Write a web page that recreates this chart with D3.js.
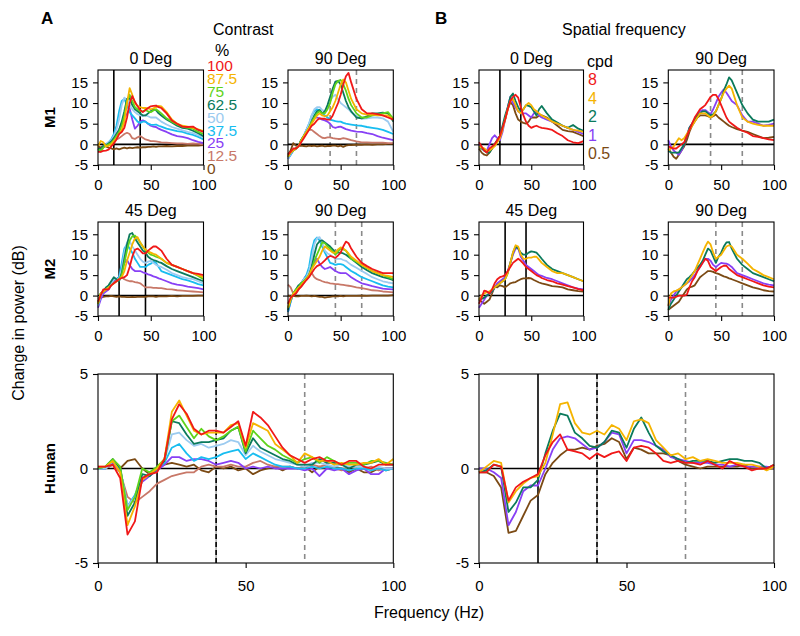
<!DOCTYPE html>
<html><head><meta charset="utf-8">
<script src="https://cdn.jsdelivr.net/npm/d3@7"></script>
<style>
body{margin:0;background:#fff}
svg{display:block}
text{font-family:"Liberation Sans",Arial,Helvetica,sans-serif;fill:#000}
</style>
</head><body><svg id="chart" width="800" height="636"></svg>
<script>
// ---------------- DATA ----------------
const freqs = [0,2.5,5,7.5,10,12.5,15,17.5,20,22.5,25,27.5,30,32.5,35,37.5,40,42.5,45,47.5,50,52.5,55,57.5,60,65,70,75,80,85,90,95,100];
const humanFreqs = [0,2.5,5,7.5,10,12.5,15,17.5,20,22.5,25,27.5,30,32.5,35,37.5,40,42.5,45,47.5,50,52.5,55,57.5,60,62.5,65,67.5,70,72.5,75,77.5,80,82.5,85,87.5,90,92.5,95,97.5,100];

const contrastLabels = ["100","87.5","75","62.5","50","37.5","25","12.5","0"];
const contrastColors = ["#f01818","#f5b400","#5fd31a","#0b7a5c","#9ccbf0","#18bdf0","#8840f5","#c87868","#7b4a14"];
const sfLabels = ["8","4","2","1","0.5"];
const sfColors = ["#f01818","#f5b400","#0b7a5c","#8840f5","#7b4a14"];

const yTicksMonkey = [-5,0,5,10,15];
const yTicksHuman = [-5,0,5];
const xTicks = [0,50,100];

// Contrast, M1, 0 Deg (rows: 100, 87.5, 75, 62.5, 50, 37.5, 25, 12.5, 0 %)
const m1Contrast0 = [
 [-1.8,-1.8,-1.6,-1.5,-1.3,-0.5,0.2,1.2, 2.5,3.0,4.0,6.5,10.0,11.7,10.3,9.2, 8.3,7.8,8.3,8.8,9.2,9.3,9.4,9.0, 8.8,7.5,5.8,5.0,4.3,4.2,4.3,3.5, 3.0],
 [-0.5,0.8,0.5,-0.5,-0.3,0.0,0.8,1.5, 2.5,3.5,5.5,10.0,13.6,12.0,10.0,9.3, 9.0,8.8,8.8,8.7,8.5,8.7,9.0,9.3, 9.2,7.8,6.0,5.0,4.5,4.3,4.0,3.6, 3.2],
 [-1.2,-1.5,-0.8,-0.3,0.0,0.3,1.0,2.0, 3.0,4.5,7.0,10.5,12.0,10.5,9.0,8.5, 8.0,8.0,8.3,8.0,7.8,8.2,8.5,8.0, 7.5,6.3,5.5,4.8,4.3,4.0,3.8,3.0, 2.5],
 [-1.0,-1.2,-0.5,-0.2,0.2,0.7,1.5,2.5, 3.5,5.5,8.0,11.0,11.2,9.5,8.5,8.0, 7.5,7.0,7.0,7.5,8.0,8.5,8.3,7.5, 7.0,6.0,5.3,4.5,4.0,3.8,3.3,2.7, 2.0],
 [-1.0,-1.3,-0.5,0.0,0.5,1.0,2.0,3.5, 6.0,9.5,11.3,10.8,9.5,8.5,7.8,7.3, 7.0,6.8,7.0,6.8,6.5,6.5,6.5,6.0, 5.5,4.8,4.2,3.8,3.4,3.0,2.7,2.2, 1.7],
 [-1.2,-1.5,-0.5,0.0,0.5,1.2,2.5,4.5, 8.0,10.5,11.0,9.5,7.8,7.0,6.3,5.5, 5.2,5.5,5.5,5.0,4.8,4.7,4.8,4.5, 4.3,3.8,3.5,3.2,3.0,2.6,2.3,1.8, 1.2],
 [-1.0,-1.3,-0.5,0.0,0.3,0.8,1.5,2.5, 3.5,5.0,6.5,7.5,8.7,6.0,3.8,4.5, 5.5,5.8,5.5,5.0,4.5,4.3,4.2,3.8, 3.5,3.0,2.4,2.0,1.8,1.5,1.0,0.6, 0.3],
 [-1.5,-1.8,-0.8,-0.3,0.0,0.3,0.8,1.2, 1.5,2.0,2.5,2.8,2.5,1.5,1.3,1.7, 2.0,1.6,1.2,1.0,0.8,0.8,0.7,0.6, 0.5,0.4,0.3,0.2,0.2,0.1,0.2,0.1, 0.0],
 [-0.5,-0.8,-0.3,-0.5,-0.8,-1.0,-1.2,-1.0, -1.2,-1.0,-0.8,-1.0,-0.8,-0.9,-0.8,-0.7, -0.8,-0.7,-0.7,-0.6,-0.6,-0.5,-0.6,-0.5, -0.5,-0.4,-0.5,-0.4,-0.4,-0.3,-0.3,-0.3, -0.2]
];
// Contrast, M1, 90 Deg
const m1Contrast90 = [
 [-2.5,-1.8,-1.0,-1.0,-0.5,0.5,1.5,2.5, 3.5,4.5,5.0,5.8,6.3,6.2,6.2,6.0, 6.0,7.0,8.5,10.0,12.0,14.5,16.5,17.3, 15.0,11.0,8.5,7.5,7.5,7.3,7.0,6.5, 6.0],
 [-3.0,-2.0,-1.5,-1.0,-0.5,0.8,2.0,3.0, 4.0,5.0,6.0,7.0,7.5,7.0,6.8,7.0, 8.0,9.0,10.5,12.5,14.5,15.7,15.0,13.0, 11.0,8.5,7.5,7.2,7.2,7.0,7.0,7.0, 6.0],
 [-3.0,-2.0,-1.5,-1.0,-0.5,1.0,2.0,3.0, 4.0,5.5,6.5,7.5,8.0,7.5,7.5,8.5, 10.0,12.5,14.5,15.3,15.6,14.5,13.0,11.0, 9.5,7.5,6.5,6.5,7.0,7.2,7.5,7.8, 6.2],
 [-3.0,-2.0,-1.5,-1.0,-0.5,1.0,2.0,3.0, 4.0,5.5,7.0,8.0,8.3,7.5,8.0,9.5, 11.5,13.5,15.2,15.4,14.5,12.5,10.5,9.0, 8.0,6.5,6.3,6.8,7.5,7.5,7.7,7.5, 5.5],
 [-3.5,-2.3,-1.5,-1.0,-0.5,1.0,2.0,3.5, 5.0,7.0,8.5,9.0,9.0,8.3,8.0,9.0, 10.5,11.5,12.0,11.0,10.0,9.5,9.0,8.5, 7.8,6.8,6.2,6.3,6.5,6.5,6.3,5.5, 3.0],
 [-3.5,-2.5,-1.5,-1.0,-0.5,1.0,2.0,3.5, 5.0,7.0,8.0,8.5,8.3,7.5,7.0,6.5, 6.0,5.8,5.6,5.5,5.5,5.2,5.0,4.9, 4.8,4.6,4.5,4.2,4.0,3.8,3.5,3.0, 2.5],
 [-3.5,-2.5,-1.5,-1.0,-0.5,1.0,2.0,3.5, 4.8,6.0,6.5,6.5,6.3,6.0,5.8,5.5, 5.0,4.2,4.0,4.2,4.3,4.0,3.7,3.5, 3.3,3.1,3.0,2.7,2.5,2.0,1.6,1.3, 1.0],
 [-3.0,-2.0,-1.5,-1.0,-0.3,1.0,2.0,3.0, 3.5,3.5,3.0,2.5,2.0,1.6,1.5,1.7, 1.7,1.5,1.4,1.3,1.3,1.5,1.4,1.2, 1.0,0.7,0.5,0.5,0.4,0.4,0.4,0.3, 0.3],
 [-2.5,-1.5,0.3,-0.3,-0.5,-0.3,-0.4,-0.5, -0.3,-0.4,-0.3,-0.5,-0.4,-0.3,-0.5,-0.4, -0.4,-0.3,-0.3,-0.5,-0.3,-0.6,-0.3,-0.2, -0.2,-0.1,-0.1,0.0,-0.1,0.0,0.0,0.1, 0.1]
];
// Contrast, M2, 45 Deg
const m2Contrast45 = [
 [-1.5,0.0,1.5,1.5,1.5,2.5,3.0,3.5, 4.0,4.3,4.5,5.0,7.0,9.5,11.2,11.5, 11.0,10.3,10.3,11.0,11.5,12.0,12.0,11.5, 11.0,9.0,7.5,7.0,6.5,6.0,5.5,5.3, 5.0],
 [-2.0,0.5,1.0,1.5,2.0,2.5,3.0,3.5, 4.0,4.5,6.0,8.5,10.5,12.5,14.0,14.3, 13.0,12.0,11.3,10.8,10.5,10.2,10.0,9.5, 9.0,8.0,7.5,7.0,6.5,6.0,5.5,5.0, 4.5],
 [-2.0,0.5,1.0,1.5,2.0,2.5,3.0,3.5, 4.0,5.0,8.0,11.0,13.5,14.5,14.7,14.0, 13.0,12.0,11.0,10.5,10.0,9.8,9.5,9.3, 9.0,8.0,7.5,7.0,6.5,6.0,5.5,4.8, 4.0],
 [-2.0,0.5,1.0,2.0,2.5,3.5,4.5,4.0, 3.5,5.5,9.0,12.5,15.0,15.3,14.0,13.0, 12.0,11.0,10.5,9.5,9.0,8.7,8.5,8.2, 8.0,7.2,6.5,6.0,5.5,5.0,4.5,4.0, 3.5],
 [-2.5,0.0,1.0,1.5,2.0,3.0,4.0,4.0, 4.0,6.5,10.5,13.0,13.3,12.0,11.0,10.0, 9.0,8.3,8.0,8.3,8.5,8.0,7.5,7.2, 7.0,6.3,5.5,5.0,4.5,4.2,4.0,3.5, 3.0],
 [-2.5,0.0,1.0,1.5,2.0,3.0,4.0,4.0, 4.5,8.0,11.5,12.5,11.5,10.5,9.0,8.0, 7.0,7.0,7.0,7.5,7.8,8.3,8.0,7.0, 6.0,5.5,5.0,4.5,4.0,3.7,3.3,2.8, 2.5],
 [-3.0,-1.0,0.5,1.0,1.5,2.5,3.5,4.0, 4.5,6.0,8.0,8.7,7.5,6.5,6.0,6.0, 6.0,5.7,5.5,5.2,5.0,4.7,4.5,4.2, 4.0,3.5,3.0,2.7,2.5,2.2,2.0,1.8, 1.5],
 [-1.5,0.0,1.0,1.5,2.0,3.0,3.5,4.0, 4.5,4.5,4.0,3.7,3.5,3.5,3.3,3.2, 3.0,2.5,2.0,2.0,2.0,1.9,1.9,1.8, 1.8,1.6,1.5,1.3,1.2,1.1,1.0,0.9, 0.8],
 [-0.8,-0.5,-0.3,-0.2,-0.2,-0.1,-0.2,-0.3, -0.2,-0.3,-0.3,-0.4,-0.4,-0.3,-0.4,-0.3, -0.3,-0.3,-0.3,-0.2,-0.2,-0.2,-0.3,-0.2, -0.2,-0.2,-0.1,-0.2,-0.1,-0.1,-0.1,0.0, 0.0]
];
// Contrast, M2, 90 Deg
const m2Contrast90 = [
 [-2.0,-0.5,0.0,0.5,1.5,2.2,3.0,3.8, 4.5,5.5,6.5,7.2,7.5,8.0,8.6,9.3, 9.7,9.5,9.2,9.8,10.5,12.0,13.2,12.8, 11.5,9.5,8.0,7.2,6.5,6.0,5.5,5.5, 5.5],
 [-3.0,-1.0,0.5,1.0,2.0,2.5,3.3,4.0, 5.0,6.5,7.5,8.5,9.5,11.0,12.0,11.5, 11.0,10.5,10.5,11.3,11.8,11.5,11.0,10.3, 9.5,8.5,7.5,6.8,6.0,5.5,5.0,4.8, 4.5],
 [-3.0,-1.0,0.5,1.5,2.0,3.0,3.5,4.3, 5.0,6.5,8.5,10.0,11.5,13.0,12.8,12.0, 11.5,10.8,10.0,10.8,11.5,11.3,11.0,10.0, 9.0,8.3,7.5,6.7,6.0,5.5,5.0,4.5, 4.0],
 [-3.5,-1.0,0.5,1.5,2.5,3.0,3.5,4.0, 5.0,7.0,10.0,12.5,13.3,13.5,13.0,12.5, 12.0,11.3,10.5,10.5,10.5,10.3,10.0,9.5, 9.0,8.0,7.0,6.2,5.5,5.0,4.5,4.2, 3.8],
 [-3.5,-1.0,0.5,1.5,2.0,3.0,4.0,4.5, 6.0,9.0,12.5,14.0,14.3,13.0,11.0,10.3, 10.0,9.5,9.0,9.0,9.0,8.7,8.5,8.0, 7.5,6.8,6.0,5.3,4.5,4.0,3.5,3.2, 3.0],
 [-4.0,-1.5,0.5,1.0,2.0,3.0,4.0,5.0, 7.0,11.0,13.5,14.2,13.5,12.0,10.5,9.3, 8.0,7.8,7.5,7.7,7.7,7.5,7.0,6.5, 6.0,5.3,4.5,4.0,3.5,3.0,2.5,2.2, 2.0],
 [-4.0,-1.5,0.5,1.0,2.0,3.0,4.0,5.0, 6.0,7.5,8.0,9.0,7.8,7.0,6.5,6.7, 7.0,6.5,6.0,5.7,5.5,5.5,5.5,5.0, 4.5,3.7,3.0,2.7,2.3,2.0,1.7,1.6, 1.5],
 [2.7,2.0,0.5,0.5,1.5,2.2,3.0,4.0, 5.0,5.5,4.5,4.0,3.8,3.5,3.3,3.2, 3.0,2.9,2.8,2.8,2.7,2.6,2.5,2.4, 2.3,2.0,1.8,1.6,1.3,1.2,1.0,0.9, 0.8],
 [0.0,-0.2,-0.1,-0.2,-0.2,-0.1,-0.1,0.0, -0.1,-0.2,-0.1,-0.2,-0.3,-0.3,-0.5,-0.4, -0.3,-0.2,-0.2,-0.2,-0.1,-0.2,-0.1,-0.1, -0.1,-0.1,0.0,-0.1,0.0,0.0,0.0,0.0, 0.1]
];
// Spatial frequency, M1, 0 Deg (rows: 8, 4, 2, 1, 0.5 cpd)
const m1Sf0 = [
 [0.5,-0.5,-1.5,-2.0,-1.0,-0.5,0.0,1.0, 2.0,4.0,6.0,8.5,10.5,11.5,12.0,11.3, 9.0,7.0,5.5,4.5,4.0,4.3,4.5,4.2, 4.0,3.8,3.5,2.7,2.0,1.0,0.5,0.3, 0.8],
 [-0.5,-0.8,-1.0,-1.5,-1.5,-1.0,-0.5,0.5, 1.5,3.5,6.0,8.5,10.5,11.0,9.5,8.0, 7.5,8.5,9.5,10.0,9.5,8.5,8.0,7.5, 7.0,6.3,5.5,5.0,4.5,4.0,3.5,3.3, 3.0],
 [-0.5,-1.0,-1.5,-2.0,-2.0,-1.0,0.0,1.0, 2.0,4.5,7.0,9.0,11.5,12.3,10.5,9.0, 8.0,8.5,9.5,9.3,9.0,8.0,7.0,8.5, 9.3,7.5,6.0,5.3,4.5,4.0,4.7,3.8, 3.3],
 [0.0,-0.8,-1.5,-1.5,0.0,1.5,2.2,1.5, 1.0,3.0,6.0,9.0,11.5,10.0,9.0,8.0, 7.5,7.5,7.5,7.0,6.5,7.5,8.0,7.0, 6.5,6.0,5.5,5.0,4.5,4.0,3.5,3.0, 2.5],
 [-1.0,-2.0,-2.5,-2.7,-2.0,-1.0,0.0,1.0, 2.0,4.0,6.0,8.5,10.2,9.5,7.5,6.0, 5.5,5.2,5.0,5.5,6.5,6.5,6.5,7.0, 7.0,6.5,5.5,4.5,3.5,3.2,3.0,2.5, 2.0]
];
// Spatial frequency, M1, 90 Deg
const m1Sf90 = [
 [-0.5,-0.8,-1.0,-1.0,-0.5,0.0,0.5,2.0, 3.5,5.0,6.5,7.5,8.5,9.0,9.5,10.5, 11.5,12.0,12.0,11.0,9.5,8.0,6.5,5.5, 5.0,4.0,3.3,2.8,2.0,1.8,1.5,1.2, 1.0],
 [-1.5,-1.0,-0.5,0.5,1.5,1.0,1.5,2.5, 3.5,4.5,5.5,6.5,7.5,7.5,7.5,7.0, 6.5,7.0,8.0,9.5,11.0,12.5,13.5,14.2, 13.5,9.5,6.5,5.5,5.0,4.7,4.5,4.5, 4.5],
 [-1.5,-2.0,-2.0,-2.0,-2.0,-1.0,0.0,2.0, 4.0,5.0,6.0,7.0,7.5,8.0,8.0,7.5, 7.0,7.3,8.0,9.5,11.0,13.0,14.5,16.2, 15.5,12.5,9.5,7.5,6.0,5.5,5.5,5.5, 6.0],
 [1.0,-0.5,-1.5,-2.0,-2.5,-1.5,0.0,2.0, 4.0,5.0,6.0,7.0,8.0,8.3,8.3,7.8, 7.3,8.5,10.0,11.5,12.5,13.3,12.5,11.5, 10.5,9.5,7.0,5.5,5.5,5.0,4.5,4.7, 5.0],
 [-1.0,-2.0,-3.0,-3.5,-2.5,-1.5,-0.5,1.0, 3.0,4.5,5.5,6.5,7.0,7.0,7.0,6.8, 6.5,6.8,7.2,6.5,6.0,5.5,5.0,4.5, 4.2,3.7,3.3,3.0,2.5,2.0,1.5,1.6, 1.8]
];
// Spatial frequency, M2, 45 Deg
const m2Sf45 = [
 [-2.0,-0.5,1.2,1.0,0.5,1.5,3.0,4.0, 4.5,4.7,5.0,6.0,7.0,8.0,8.5,9.0, 8.5,7.8,7.0,6.5,6.0,5.5,5.0,4.7, 4.3,3.8,3.5,3.0,2.7,2.3,2.0,1.6, 1.3],
 [-1.0,0.0,0.5,0.8,1.0,1.5,2.0,2.5, 3.0,3.5,4.0,5.5,8.0,10.5,12.3,12.0, 10.0,9.0,9.0,9.3,9.3,9.5,9.5,8.8, 8.0,7.0,6.0,5.5,5.5,5.0,4.5,4.0, 3.5],
 [-1.0,-0.8,-0.5,0.0,0.5,1.0,2.0,2.5, 3.0,3.5,4.0,5.5,8.0,10.5,12.0,11.5, 10.5,10.0,10.0,10.5,10.8,10.7,10.5,9.8, 9.0,7.5,6.5,6.0,5.5,5.0,4.5,4.0, 3.5],
 [-3.0,-2.0,-1.0,0.0,0.5,1.0,2.0,3.0, 3.5,4.0,4.5,6.0,8.0,10.0,11.5,11.6, 9.5,8.5,7.5,7.0,6.5,6.0,5.5,5.0, 4.8,4.3,4.0,3.5,3.0,2.5,2.0,1.7, 1.5],
 [-1.0,-1.5,-2.0,-1.5,-1.0,0.5,2.2,2.0, 2.5,2.3,2.0,2.5,3.0,3.2,3.3,3.7, 4.0,4.2,4.2,4.3,4.2,3.8,3.5,3.2, 3.0,2.7,2.3,2.2,2.0,1.5,1.3,1.1, 1.0]
];
// Spatial frequency, M2, 90 Deg
const m2Sf90 = [
 [-0.5,-0.5,-0.5,-0.3,0.0,0.0,0.0,0.2, 2.0,3.5,4.5,6.0,7.0,8.0,9.0,8.5, 7.0,6.5,6.0,6.5,7.0,7.3,7.3,6.5, 6.0,5.0,4.5,4.0,3.5,3.0,2.5,2.2, 2.0],
 [-2.5,0.5,1.0,1.2,1.5,2.0,2.5,3.0, 4.0,5.0,6.0,7.5,9.0,10.5,12.0,13.2, 12.5,10.5,9.0,9.5,10.0,11.0,12.0,12.3, 12.0,10.0,9.0,7.8,6.5,5.8,5.0,4.5, 4.0],
 [-3.5,-2.0,-1.0,0.0,1.0,2.0,3.0,4.0, 4.5,5.2,6.0,6.8,7.5,8.5,10.0,11.5, 11.0,9.5,8.0,9.5,10.5,12.0,13.0,13.1, 11.5,9.0,7.5,6.5,5.5,5.0,4.5,4.0, 3.5],
 [-2.5,-1.0,0.0,1.0,1.5,2.0,2.5,3.0, 3.5,4.2,5.0,6.0,7.0,8.0,9.0,9.0, 8.5,7.5,7.0,7.5,8.0,7.9,7.8,7.5, 7.0,5.5,5.0,4.5,4.0,3.5,3.0,2.7, 2.5],
 [-3.5,-3.0,-2.5,-2.0,-1.5,-0.5,0.5,1.5, 2.0,2.2,2.5,3.5,4.5,5.0,5.5,6.0, 6.0,5.8,5.5,5.3,5.0,4.7,4.5,4.2, 4.0,3.5,3.0,2.5,2.0,1.7,1.3,1.1, 1.0]
];
// Human, contrast
const humanContrast = [
 [0.1,0.1,0.2,-0.5,-3.5,-2.8,-0.5,-0.3, -0.2,0.5,2.6,3.4,2.9,2.1,1.8,2.0, 2.0,1.9,2.2,2.5,1.2,3.0,2.7,2.3, 1.7,1.1,0.7,0.5,0.3,0.5,0.6,0.4, 0.4,0.2,0.4,0.4,0.1,0.0,0.2,0.2, 0.2],
 [0.1,0.1,0.4,-0.2,-3.0,-2.0,-0.6,-0.3, 0.0,0.5,3.0,3.6,2.8,2.0,1.8,1.9, 1.9,1.9,2.3,2.4,1.1,2.4,2.2,2.0, 1.3,1.0,0.7,0.3,0.8,0.6,0.4,0.4, 0.2,0.3,0.2,0.2,0.3,0.3,0.5,0.2, 0.5],
 [0.0,0.1,0.5,0.1,-2.2,-1.5,0.0,-0.2, 0.1,0.5,2.5,2.8,2.2,1.6,2.1,1.7, 1.5,1.7,2.0,2.2,0.9,2.0,1.6,1.2, 1.0,0.7,0.5,0.3,0.5,0.6,0.3,0.6, 0.4,0.2,0.3,0.3,0.2,0.4,0.4,0.3, 0.2],
 [0.0,0.1,0.5,0.0,-2.5,-1.8,-0.3,-0.4, 0.0,0.4,2.5,2.4,1.8,1.3,1.4,1.4, 1.5,1.6,2.0,2.2,0.8,1.6,1.1,0.9, 0.7,0.5,0.4,0.2,0.2,0.2,0.5,0.3, 0.3,0.2,0.0,0.2,0.2,0.3,0.4,0.2, 0.2],
 [0.0,0.0,0.4,0.0,-2.0,-1.5,-0.5,-0.3, 0.0,0.4,1.8,1.9,1.5,1.2,1.3,1.1, 1.2,1.3,1.5,1.4,0.7,1.2,0.9,0.7, 0.5,0.4,0.3,0.2,0.1,0.3,0.3,0.2, 0.1,0.2,0.1,0.1,0.1,0.0,0.1,0.0, 0.0],
 [0.0,0.0,0.4,0.0,-2.0,-1.4,-0.5,-0.3, 0.0,0.3,1.1,1.3,0.8,0.4,0.6,0.5, 0.6,0.8,0.9,1.0,0.5,0.8,0.6,0.4, 0.2,0.1,0.1,0.0,0.0,0.1,0.0,0.1, 0.0,0.0,-0.1,0.0,0.0,-0.1,0.0,-0.1, 0.0],
 [0.0,0.0,0.3,0.0,-2.0,-1.5,-0.7,-0.4, -0.1,0.2,0.6,0.6,0.4,0.5,0.5,0.4, 0.2,0.3,0.4,0.3,0.0,0.1,0.0,0.1, 0.0,0.0,0.0,0.0,-0.1,0.0,-0.4,0.0, -0.1,0.0,-0.3,-0.1,0.0,-0.3,-0.3,0.0, 0.0],
 [0.0,0.0,0.2,-0.2,-1.5,-1.8,-1.5,-1.2, -0.8,-0.6,-0.4,-0.3,-0.2,-0.2,0.1,0.2, 0.1,0.1,0.2,0.1,0.1,0.3,0.4,0.2, 0.1,0.1,0.1,0.0,0.1,0.2,0.1,0.2, 0.0,-0.1,0.1,0.0,0.0,0.1,-0.1,0.0, 0.0],
 [0.0,0.0,0.2,0.0,0.4,0.5,0.0,-0.3, 0.0,0.2,0.3,0.2,0.1,0.2,-0.1,-0.2, 0.1,0.0,0.1,-0.1,0.0,-0.3,-0.1,0.0, 0.1,-0.1,0.1,0.0,0.1,-0.2,0.1,0.0, 0.1,0.0,-0.2,0.0,-0.2,-0.2,0.0,-0.1, 0.0]
];
// Human, spatial frequency
const humanSf = [
 [-0.2,-0.2,0.2,0.1,-1.7,-1.0,-0.7,-0.5, -0.3,0.7,1.4,1.8,1.0,0.9,0.8,0.5, 0.8,0.6,0.8,0.9,0.4,1.1,1.2,1.1, 0.8,0.4,0.3,0.4,0.3,0.3,0.2,0.4, 0.2,0.0,0.4,0.2,0.1,-0.1,0.0,0.0, 0.2],
 [-0.2,0.1,0.4,0.3,-1.8,-1.2,-0.8,-0.5, -0.4,0.3,1.8,3.4,3.5,2.4,1.9,1.8, 2.0,1.8,2.3,2.1,1.5,2.5,2.6,2.4, 1.5,1.1,0.7,0.8,0.5,0.6,0.4,0.5, 0.4,0.3,0.3,0.3,0.2,0.2,0.1,-0.1, 0.1],
 [-0.2,-0.1,0.2,0.1,-2.3,-1.8,-1.0,-1.0, -0.6,0.8,2.0,2.9,2.8,1.9,1.6,1.2, 1.1,1.4,2.0,1.9,1.1,2.1,2.7,1.9, 1.2,0.9,0.7,0.5,0.3,0.4,0.4,0.4, 0.3,0.4,0.5,0.5,0.4,0.4,0.3,0.0, 0.2],
 [0.0,0.0,-0.2,-0.5,-3.0,-2.3,-1.2,-0.9, -0.9,0.0,1.0,1.6,1.7,1.6,1.3,1.0, 1.1,1.4,1.9,1.8,0.8,1.5,1.5,1.4, 1.2,1.0,0.6,0.5,0.4,0.3,0.3,0.3, 0.2,0.2,0.1,0.2,0.1,0.1,0.1,0.1, 0.0],
 [-0.2,-0.2,-0.4,-1.0,-3.4,-3.3,-2.5,-1.7, -1.4,-0.3,0.3,0.7,1.0,1.0,1.1,1.0, 1.2,1.3,1.6,1.4,0.5,1.1,1.0,0.8, 0.8,0.8,0.7,0.4,0.2,0.1,0.0,0.1, 0.1,0.1,0.1,0.1,0.2,0.0,0.0,0.0, 0.0]
];

// ---------------- LAYOUT ----------------
const svg = d3.select("#chart");
const colA1 = [98, 203.5], colA2 = [288, 393.3], colB1 = [479, 583.5], colB2 = [668.3, 774];
const rowM1 = [70, 165], rowM2 = [222, 316], rowH = [374, 563];

const panels = [
 {data:m1Contrast0, f:freqs, xr:colA1, yr:rowM1, title:"0 Deg", lines:[[15,"solid"],[40,"solid"]], colors:contrastColors, yd:[-5,18], yt:yTicksMonkey, xpad:9},
 {data:m1Contrast90, f:freqs, xr:colA2, yr:rowM1, title:"90 Deg", lines:[[40,"gray"],[65,"gray"]], colors:contrastColors, yd:[-5,18], yt:yTicksMonkey, xpad:9},
 {data:m2Contrast45, f:freqs, xr:colA1, yr:rowM2, title:"45 Deg", lines:[[20,"solid"],[45,"solid"]], colors:contrastColors, yd:[-5,18], yt:yTicksMonkey, xpad:9},
 {data:m2Contrast90, f:freqs, xr:colA2, yr:rowM2, title:"90 Deg", lines:[[45,"gray"],[70,"gray"]], colors:contrastColors, yd:[-5,18], yt:yTicksMonkey, xpad:9},
 {data:m1Sf0, f:freqs, xr:colB1, yr:rowM1, title:"0 Deg", lines:[[20,"solid"],[40,"solid"]], colors:sfColors, yd:[-5,18], yt:yTicksMonkey, xpad:9},
 {data:m1Sf90, f:freqs, xr:colB2, yr:rowM1, title:"90 Deg", lines:[[40,"gray"],[70,"gray"]], colors:sfColors, yd:[-5,18], yt:yTicksMonkey, xpad:9},
 {data:m2Sf45, f:freqs, xr:colB1, yr:rowM2, title:"45 Deg", lines:[[25,"solid"],[45,"solid"]], colors:sfColors, yd:[-5,18], yt:yTicksMonkey, xpad:9},
 {data:m2Sf90, f:freqs, xr:colB2, yr:rowM2, title:"90 Deg", lines:[[45,"gray"],[70,"gray"]], colors:sfColors, yd:[-5,18], yt:yTicksMonkey, xpad:9},
 {data:humanContrast, f:humanFreqs, xr:[98,393.3], yr:rowH, title:null, lines:[[20,"solid"],[40,"mixed"],[70,"gray"]], colors:contrastColors, yd:[-5,5], yt:yTicksHuman, xpad:12},
 {data:humanSf, f:humanFreqs, xr:[479,774], yr:rowH, title:null, lines:[[20,"solid"],[40,"mixed"],[70,"gray"]], colors:sfColors, yd:[-5,5], yt:yTicksHuman, xpad:12}
];

function drawPanel(p){
  const x = d3.scaleLinear().domain([0,100]).range(p.xr);
  const y = d3.scaleLinear().domain(p.yd).range([p.yr[1], p.yr[0]]);
  const g = svg.append("g");
  // reference lines
  p.lines.forEach(([v, style]) => {
    const ln = () => g.append("line").attr("x1", x(v)).attr("x2", x(v)).attr("y1", p.yr[0]).attr("y2", p.yr[1]).attr("stroke-width", 1.6);
    if (style === "solid") ln().attr("stroke", "#000");
    else if (style === "gray") ln().attr("stroke", "#8a8a8a").attr("stroke-dasharray", "5,4");
    else { ln().attr("stroke", "#aaa"); ln().attr("stroke", "#000").attr("stroke-dasharray", "5,3"); }
  });
  // zero line
  g.append("line").attr("x1", p.xr[0]).attr("x2", p.xr[1]).attr("y1", y(0)).attr("y2", y(0))
    .attr("stroke", "#000").attr("stroke-width", 1.6);
  // series (first row drawn last, on top)
  const line = d3.line().x((d,i) => x(p.f[i])).y(d => y(d));
  for (let i = p.data.length - 1; i >= 0; i--) {
    g.append("path").attr("d", line(p.data[i])).attr("fill", "none")
      .attr("stroke", p.colors[i]).attr("stroke-width", 1.8).attr("stroke-linejoin", "round");
  }
  // frame
  g.append("rect").attr("x", p.xr[0]).attr("y", p.yr[0]).attr("width", p.xr[1]-p.xr[0]).attr("height", p.yr[1]-p.yr[0])
    .attr("fill", "none").attr("stroke", "#000").attr("stroke-width", 1.1);
  // axes
  const ax = g.append("g").attr("transform", `translate(0,${p.yr[1]})`)
    .call(d3.axisBottom(x).tickValues(xTicks).tickSize(5).tickPadding(p.xpad).tickFormat(d => String(d)));
  const ay = g.append("g").attr("transform", `translate(${p.xr[0]},0)`)
    .call(d3.axisLeft(y).tickValues(p.yt).tickSize(5).tickPadding(5).tickFormat(d => String(d)));
  [ax, ay].forEach(a => {
    a.select(".domain").remove();
    a.selectAll(".tick line").attr("stroke", "#000").attr("stroke-width", 1.1);
    a.selectAll(".tick text").attr("font-size", 15).attr("font-family", '"Liberation Sans",Arial,sans-serif').attr("fill", "#000");
  });
  if (p.title) {
    g.append("text").attr("x", (p.xr[0]+p.xr[1])/2).attr("y", p.yr[0]-6)
      .attr("text-anchor", "middle").attr("font-size", 16).text(p.title);
  }
}
panels.forEach(drawPanel);

// legends
const legA = svg.append("g");
legA.append("text").attr("x", 215).attr("y", 56).attr("font-size", 16).text("%");
contrastLabels.forEach((t, i) => legA.append("text").attr("x", 207).attr("y", 71 + 12.9*i)
  .attr("font-size", 15.5).style("fill", contrastColors[i]).text(t));
const legB = svg.append("g");
legB.append("text").attr("x", 587).attr("y", 67).attr("font-size", 16).text("cpd");
sfLabels.forEach((t, i) => legB.append("text").attr("x", 588).attr("y", 85 + 18.5*i)
  .attr("font-size", 16).style("fill", sfColors[i]).text(t));

// headings and labels
svg.append("text").attr("x", 41).attr("y", 24).attr("font-size", 17).attr("font-weight", "bold").text("A");
svg.append("text").attr("x", 435).attr("y", 24).attr("font-size", 17).attr("font-weight", "bold").text("B");
svg.append("text").attr("x", 213).attr("y", 35).attr("font-size", 16).text("Contrast");
svg.append("text").attr("x", 562).attr("y", 35).attr("font-size", 16).text("Spatial frequency");
[["M1", 117.5], ["M2", 269], ["Human", 468.5]].forEach(([t, cy]) =>
  svg.append("text").attr("transform", `translate(55,${cy}) rotate(-90)`).attr("text-anchor", "middle")
    .attr("font-size", 15).attr("font-weight", "bold").text(t));
svg.append("text").attr("transform", "translate(24,323) rotate(-90)").attr("text-anchor", "middle")
  .attr("font-size", 16).text("Change in power (dB)");
svg.append("text").attr("x", 429).attr("y", 618).attr("text-anchor", "middle").attr("font-size", 16).text("Frequency (Hz)");
</script></body></html>
